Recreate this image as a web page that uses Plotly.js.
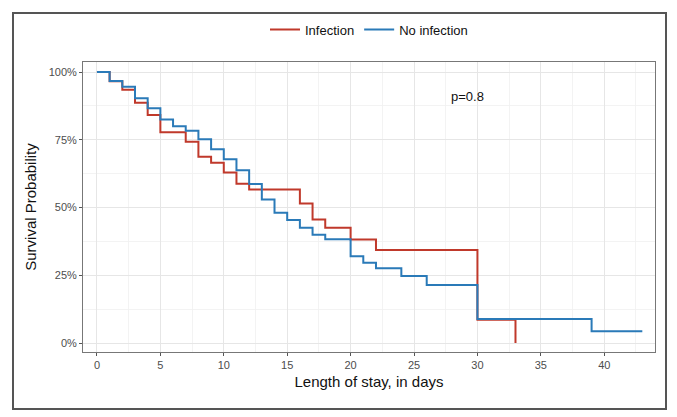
<!DOCTYPE html>
<html>
<head>
<meta charset="utf-8">
<script src="https://cdn.plot.ly/plotly-3.0.1.min.js"></script>
<style>
html,body{margin:0;padding:0;background:#fff;}
#wrap{position:relative;width:677px;height:417px;}
#chart{width:677px;height:417px;}
#frame{position:absolute;left:12px;top:12px;width:651px;height:394px;border:2px solid #555;pointer-events:none;}
</style>
</head>
<body>
<div id="wrap"><div id="chart"></div><div id="frame"></div></div>
<script>
// Kaplan-Meier estimates (time in days, survival in %)
const infectionTime = [0,1,2,3,4,5,7,8,9,10,11,12,16,17,18,20,22,30,33];
const infectionSurv = [100,96.6,93.5,88.7,84.1,77.8,74.3,68.7,66.5,62.9,58.8,56.7,51.5,45.6,42.5,38.2,34.3,8.6,0];
const noInfectionTime = [0,1,2,3,4,5,6,7,8,9,10,11,12,13,14,15,16,17,18,20,21,22,24,26,30,39,43];
const noInfectionSurv = [100,96.7,94.6,90.3,86.6,82.5,80.0,78.3,75.2,71.5,67.8,63.8,58.7,53.0,48.1,45.4,42.5,40.0,38.3,32.0,29.6,27.6,24.7,21.4,8.9,4.4,4.4];
const groupNames = ["Infection","No infection"];
const groupColors = ["#C0392B","#2A7AB8"];
const xTicks = [0,5,10,15,20,25,30,35,40];
const yTicks = [0,25,50,75,100];
const yTickText = ["0%","25%","50%","75%","100%"];
const pText = "p=0.8";

const font = "Liberation Sans Narrow, Liberation Sans, Arial, sans-serif";

const traces = [
  {x: infectionTime, y: infectionSurv, name: groupNames[0], mode: "lines",
   line: {shape: "hv", color: groupColors[0], width: 2}},
  {x: noInfectionTime, y: noInfectionSurv, name: groupNames[1], mode: "lines",
   line: {shape: "hv", color: groupColors[1], width: 2}}
];

const axisCommon = {
  showline: true, mirror: true, linecolor: "#777", linewidth: 1,
  ticks: "outside", ticklen: 3, tickcolor: "#555", tickwidth: 1,
  gridcolor: "#e6e6e6", gridwidth: 1, zeroline: false,
  tickfont: {family: font, size: 11, color: "#4d4d4d"}
};

const layout = {
  width: 677, height: 417,
  margin: {l: 83, r: 22, t: 62, b: 65},
  paper_bgcolor: "#fff", plot_bgcolor: "#fff",
  showlegend: true,
  legend: {orientation: "h", x: 0.5, xanchor: "center", y: 1.06, yanchor: "bottom",
           xref: "paper", font: {family: font, size: 13, color: "#111"},
           itemwidth: 30, tracegroupgap: 0},
  xaxis: Object.assign({}, axisCommon, {
    range: [-1.1, 44.0], tickvals: xTicks,
    minor: {tickvals: [2.5,7.5,12.5,17.5,22.5,27.5,32.5,37.5,42.5], showgrid: true, gridcolor: "#f0f0f0", gridwidth: 0.8, ticks: ""},
    title: {text: "Length of stay, in days", font: {family: font, size: 15, color: "#111"}, standoff: 6}
  }),
  yaxis: Object.assign({}, axisCommon, {
    range: [-3.3, 103.7], tickvals: yTicks, ticktext: yTickText,
    minor: {tickvals: [12.5,37.5,62.5,87.5], showgrid: true, gridcolor: "#f0f0f0", gridwidth: 0.8, ticks: ""},
    title: {text: "Survival Probability", font: {family: font, size: 15, color: "#111"}, standoff: 8}
  }),
  annotations: [
    {x: 29.2, y: 91, xref: "x", yref: "y", text: pText, showarrow: false,
     font: {family: font, size: 13, color: "#111"}}
  ]
};

Plotly.newPlot("chart", traces, layout, {displayModeBar: false, staticPlot: true});
</script>
</body>
</html>
